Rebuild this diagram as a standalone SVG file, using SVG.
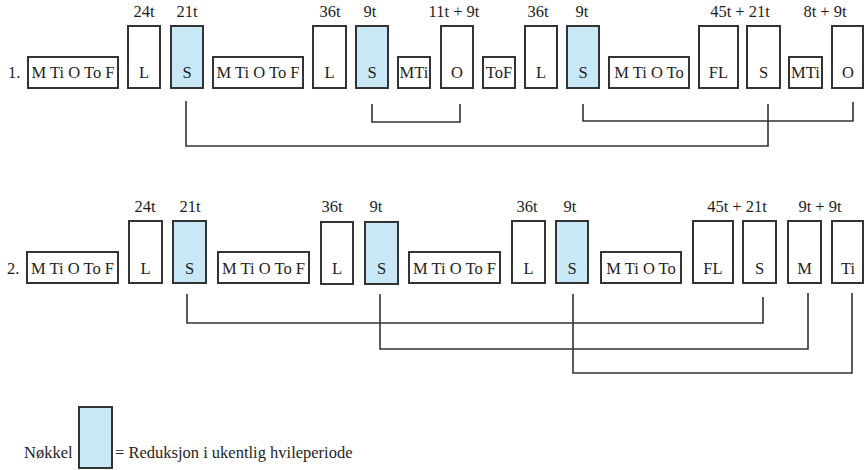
<svg xmlns="http://www.w3.org/2000/svg" width="865" height="470" viewBox="0 0 865 470">
<style>
  .b { fill: #ffffff; stroke: #333333; stroke-width: 2; }
  .s { fill: #c9e8f7; stroke: #333333; stroke-width: 2; }
  text { font-family: "Liberation Serif", "Times New Roman", serif; font-size: 16.5px; fill: #1e1e1e; }
  .c { text-anchor: middle; }
  .conn { fill: none; stroke: #333333; stroke-width: 1.6; }
</style>
<rect width="865" height="470" fill="#ffffff"/>

<!-- Row 1 -->
<g id="row1-labels">
  <text x="8" y="78">1.</text>
  <text class="c" x="144" y="17">24t</text>
  <text class="c" x="187" y="17">21t</text>
  <text class="c" x="330" y="17">36t</text>
  <text class="c" x="370" y="17">9t</text>
  <text class="c" x="454" y="17">11t + 9t</text>
  <text class="c" x="538" y="17">36t</text>
  <text class="c" x="582" y="17">9t</text>
  <text class="c" x="740" y="17">45t + 21t</text>
  <text class="c" x="825" y="17">8t + 9t</text>
</g>
<g id="r1n1"><rect class="b" x="28" y="57" width="90" height="31"/><text class="c" x="73" y="78">M Ti O To F</text></g>
<g id="r1n2"><rect class="b" x="128" y="26" width="32" height="62"/><text class="c" x="144" y="78">L</text></g>
<g id="r1n3"><rect class="s" x="171" y="26" width="32" height="62"/><text class="c" x="187" y="78">S</text></g>
<g id="r1n4"><rect class="b" x="213" y="57" width="90" height="31"/><text class="c" x="258" y="78">M Ti O To F</text></g>
<g id="r1n5"><rect class="b" x="313" y="26" width="33" height="62"/><text class="c" x="329.5" y="78">L</text></g>
<g id="r1n6"><rect class="s" x="356" y="26" width="32" height="62"/><text class="c" x="372" y="78">S</text></g>
<g id="r1n7"><rect class="b" x="398" y="57" width="32" height="31"/><text class="c" x="414" y="78">MTi</text></g>
<g id="r1n8"><rect class="b" x="441" y="26" width="32" height="62"/><text class="c" x="457" y="78">O</text></g>
<g id="r1n9"><rect class="b" x="483" y="57" width="32" height="31"/><text class="c" x="499" y="78">ToF</text></g>
<g id="r1n10"><rect class="b" x="525" y="26" width="32" height="62"/><text class="c" x="541" y="78">L</text></g>
<g id="r1n11"><rect class="s" x="567" y="26" width="32" height="62"/><text class="c" x="583" y="78">S</text></g>
<g id="r1n12"><rect class="b" x="609" y="57" width="80" height="31"/><text class="c" x="649" y="78">M Ti O To</text></g>
<g id="r1n13"><rect class="b" x="699" y="26" width="39" height="62"/><text class="c" x="718.5" y="78">FL</text></g>
<g id="r1n14"><rect class="b" x="747" y="26" width="33" height="62"/><text class="c" x="763.5" y="78">S</text></g>
<g id="r1n15"><rect class="b" x="789" y="57" width="33" height="31"/><text class="c" x="805.5" y="78">MTi</text></g>
<g id="r1n16"><rect class="b" x="832" y="26" width="31" height="62"/><text class="c" x="848" y="78">O</text></g>

<!-- Row 2 -->
<g id="row2-labels">
  <text x="7" y="274">2.</text>
  <text class="c" x="145" y="212">24t</text>
  <text class="c" x="190" y="212">21t</text>
  <text class="c" x="332" y="212">36t</text>
  <text class="c" x="376" y="212">9t</text>
  <text class="c" x="527" y="212">36t</text>
  <text class="c" x="570" y="212">9t</text>
  <text class="c" x="737" y="212">45t + 21t</text>
  <text class="c" x="820" y="212">9t + 9t</text>
</g>
<g id="r2n1"><rect class="b" x="27" y="252" width="91" height="31"/><text class="c" x="72.5" y="274">M Ti O To F</text></g>
<g id="r2n2"><rect class="b" x="129" y="221" width="33" height="62"/><text class="c" x="145.5" y="274">L</text></g>
<g id="r2n3"><rect class="s" x="173" y="221" width="33" height="62"/><text class="c" x="189.5" y="274">S</text></g>
<g id="r2n4"><rect class="b" x="218" y="252" width="91" height="31"/><text class="c" x="263.5" y="274">M Ti O To F</text></g>
<g id="r2n5"><rect class="b" x="321" y="222" width="32" height="62"/><text class="c" x="337" y="274">L</text></g>
<g id="r2n6"><rect class="s" x="365" y="222" width="33" height="62"/><text class="c" x="381.5" y="274">S</text></g>
<g id="r2n7"><rect class="b" x="409" y="252" width="91" height="31"/><text class="c" x="454.5" y="274">M Ti O To F</text></g>
<g id="r2n8"><rect class="b" x="512" y="221" width="33" height="62"/><text class="c" x="528.5" y="274">L</text></g>
<g id="r2n9"><rect class="s" x="556" y="221" width="32" height="62"/><text class="c" x="572" y="274">S</text></g>
<g id="r2n10"><rect class="b" x="601" y="252" width="80" height="31"/><text class="c" x="641" y="274">M Ti O To</text></g>
<g id="r2n11"><rect class="b" x="693" y="221" width="40" height="62"/><text class="c" x="713" y="274">FL</text></g>
<g id="r2n12"><rect class="b" x="743" y="221" width="33" height="62"/><text class="c" x="759.5" y="274">S</text></g>
<g id="r2n13"><rect class="b" x="788" y="221" width="33" height="62"/><text class="c" x="804.5" y="274">M</text></g>
<g id="r2n14"><rect class="b" x="832" y="221" width="31" height="62"/><text class="c" x="848" y="274">Ti</text></g>

<!-- Connectors -->
<g id="connectors">
  <path class="conn" d="M186,101 V146 H768 V104"/>
  <path class="conn" d="M372,104 V122 H460 V104"/>
  <path class="conn" d="M583,104 V121 H853 V102"/>
  <path class="conn" d="M187,294 V323 H763 V297"/>
  <path class="conn" d="M380,294 V349 H808 V293"/>
  <path class="conn" d="M573,294 V373 H852 V293"/>
</g>

<!-- Legend -->
<g id="legend">
  <text x="24" y="458">Nøkkel</text>
  <rect class="s" x="79" y="407" width="33" height="61"/>
  <text x="115" y="458">= Reduksjon i ukentlig hvileperiode</text>
</g>
</svg>
